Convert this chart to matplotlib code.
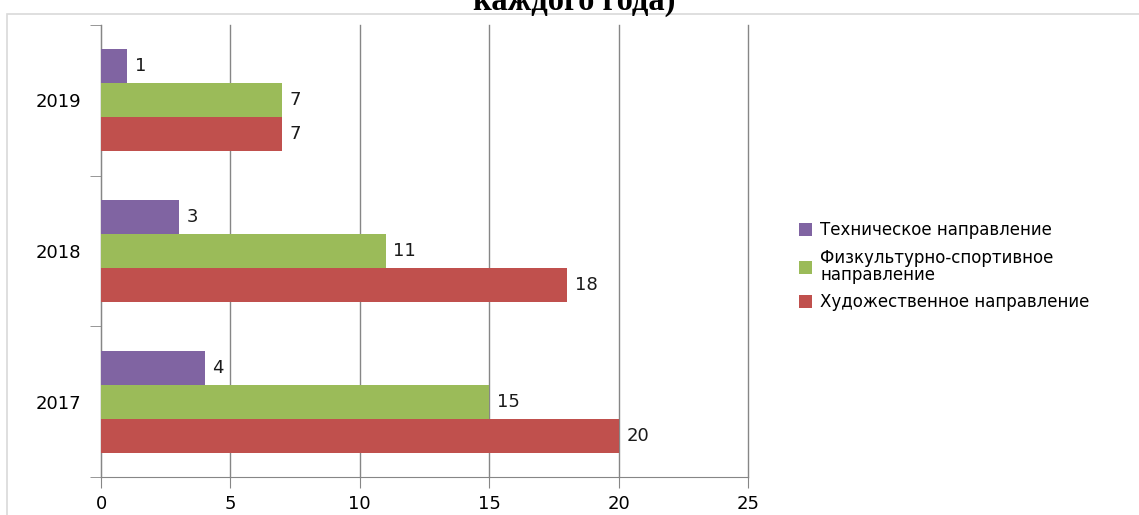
import numpy as np
import matplotlib.pyplot as plt
from matplotlib.patches import Rectangle, Patch

years = ['2017', '2018', '2019']
tech = [4, 3, 1]
sport = [15, 11, 7]
art = [20, 18, 7]
labels = ['Техническое направление', 'Физкультурно-спортивное\nнаправление', 'Художественное направление']
colors = ['#8064A2', '#9BBB59', '#C0504D']

plt.rcParams['font.family'] = ['DejaVu Sans']
fs = 13

fig = plt.figure(figsize=(11.39, 5.15), dpi=100)
ax = fig.add_axes([0.0887, 0.0738, 0.5680, 0.8777])

# outer chart border (partly off the picture)
fig.patches.append(Rectangle((7 / 1139, -0.1), 1.2, (515 - 14) / 515 + 0.1,
                             transform=fig.transFigure, fill=False,
                             edgecolor='#d9d9d9', linewidth=1.2, zorder=0))

fig.text(0.504, 1.0 - 10 / 515, 'каждого года)', ha='center', va='baseline',
         fontsize=23.5, fontweight='bold', family='Liberation Serif')

y = np.arange(len(years))
h = 0.225
series = [(tech, h), (sport, 0), (art, -h)]
for (vals, off), c in zip(series, colors):
    bars = ax.barh(y + off, vals, height=h, color=c, zorder=3)
    for b, v in zip(bars, vals):
        ax.text(v + 0.3, b.get_y() + h / 2, str(v), va='center', ha='left',
                fontsize=fs, color='#1a1a1a')

ax.set_xlim(0, 25)
ax.set_ylim(-0.5, 2.5)
ax.set_xticks(np.arange(0, 26, 5))
ax.set_yticks(y)
ax.set_yticklabels(years)
ax.set_yticks([-0.5, 0.5, 1.5, 2.5], minor=True)
ax.tick_params(axis='y', which='major', length=0, pad=14, labelsize=fs)
ax.tick_params(axis='y', which='minor', length=8, color='#868686', direction='out')
ax.tick_params(axis='x', length=8, color='#868686', labelsize=fs, pad=5)
ax.grid(axis='x', color='#868686', linewidth=1, zorder=0)
for gl in ax.get_xgridlines():
    gl.set_clip_on(False)
for s in ['top', 'right']:
    ax.spines[s].set_visible(False)
for s in ['left', 'bottom']:
    ax.spines[s].set_color('#868686')

handles = [Patch(facecolor=c) for c in colors]
leg = fig.legend(handles, labels, loc='center left', bbox_to_anchor=(0.688, 0.483),
                 frameon=False, fontsize=12, handlelength=0.8, handleheight=0.8,
                 handletextpad=0.5, labelspacing=0.55)
for t in leg.get_texts():
    t.set_linespacing(0.95)

plt.savefig('out.png', dpi=100)
